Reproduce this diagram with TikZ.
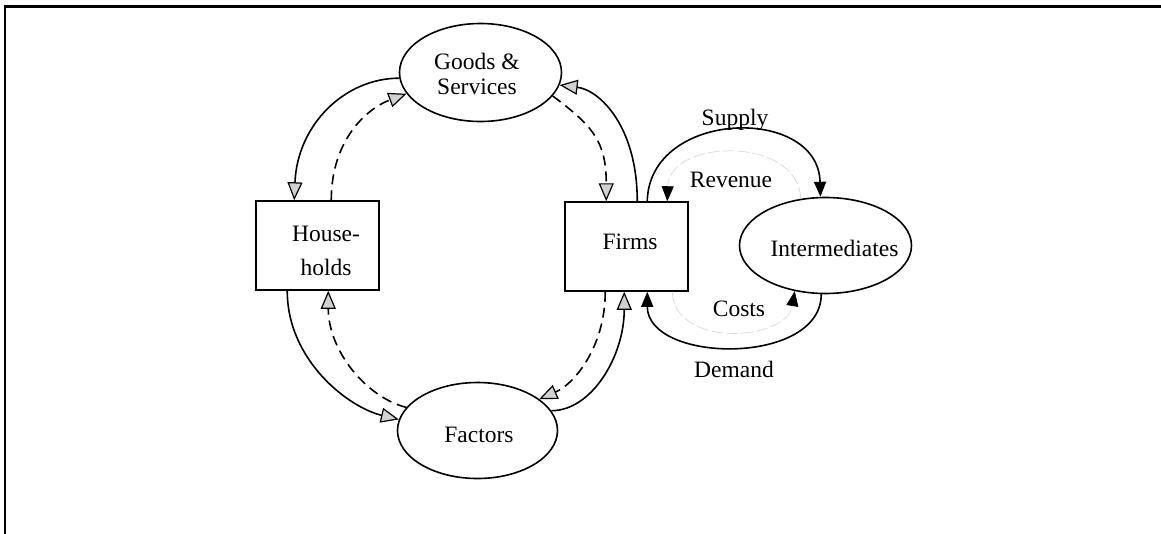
\documentclass[tikz,border=0pt]{standalone}
\usepackage{fontspec}
\setmainfont{Liberation Serif}
\usetikzlibrary{shapes.geometric,arrows.meta,calc}
\begin{document}
\begin{tikzpicture}[x=1pt,y=-1pt,
  ell/.style={ellipse, draw, line width=1.6pt, inner sep=0pt},
  boxst/.style={rectangle, draw, line width=1.5pt, inner sep=0pt},
  lbl/.style={font=\fontsize{23.5}{25}\selectfont, inner sep=0pt, align=center},
  flow/.style={line width=1.6pt, -{Triangle[length=18pt,width=15pt,fill=black!18,line width=1.2pt]}},
  money/.style={flow, dash pattern=on 10pt off 6pt},
  blk/.style={line width=1.6pt, -{Triangle[length=15pt,width=12pt]}},
  faint/.style={line width=0.7pt, draw=black!15, dash pattern=on 12pt off 3pt, -{Triangle[length=15pt,width=12pt,color=black]}},
]
\useasboundingbox (0,0) rectangle (1161,533);
\fill[white] (0,0) rectangle (1161,533);
\draw[line width=2.6pt] (5,6.5) rectangle (1180,550);

% shapes
\node[ell, minimum width=162pt, minimum height=98pt] (gs) at (480.5,72.5) {};
\node[boxst, minimum width=123pt, minimum height=89pt] (hh) at (317.5,245.5) {};
\node[boxst, minimum width=123pt, minimum height=89pt] (fi) at (626.5,246.5) {};
\node[ell, minimum width=172pt, minimum height=96pt] (im) at (825.5,245.5) {};
\node[ell, minimum width=160pt, minimum height=96pt] (fa) at (477.5,430.5) {};

% texts
\node[lbl] (gs-t) at (477,74) {Goods \&\\Services};
\node[lbl, font=\fontsize{23.5}{34}\selectfont] (hh-t) at (326,251.3) {House-\\holds};
\node[lbl] (fi-t) at (630,241.5) {Firms};
\node[lbl] (im-t) at (834.5,248.7) {Intermediates};
\node[lbl] (fa-t) at (479,435) {Factors};
\node[lbl] (sup) at (735,120) {Supply};
\node[lbl] (rev) at (731,179.5) {Revenue};
\node[lbl] (cos) at (739,309) {Costs};
\node[lbl] (dem) at (734,369) {Demand};

% upper loop
\draw[flow] (gs.184) .. controls +(-55,0) and +(3,-75) .. ($(hh.north west)+(39,0)$);
\draw[money] ($(hh.north west)+(76,0)$) .. controls +(0,-60) and +(-40,15) .. (gs.196);
\draw[money] (gs.342) .. controls +(40,30) and +(0,-60) .. ($(fi.north west)+(42,0)$);
\draw[flow] ($(fi.north west)+(73,0)$) .. controls +(0,-75) and +(40,5) .. (gs.351);

% lower loop
\draw[flow] ($(hh.south west)+(32,0)$) .. controls +(0,70) and +(-50,-12) .. (fa.172);
\draw[money] (fa.162) .. controls +(-40,-10) and +(0,60) .. ($(hh.south west)+(73,0)$);
\draw[money] ($(fi.south west)+(41,0)$) .. controls +(0,55) and +(35,-15) .. (fa.27);
\draw[flow] (fa.15) .. controls +(40,0) and +(0,65) .. ($(fi.south west)+(60,0)$);

% intermediates loop
\draw[blk] ($(fi.north west)+(83,0)$) .. controls +(2,-92) and +(-2,-92) .. (im.96);
\draw[blk] (im.265) .. controls +(0,72) and +(0,72) .. ($(fi.south west)+(83,0)$);
\draw[faint] (im.118) .. controls +(-2,-63) and +(2,-63) .. ($(fi.north west)+(103,0)$);
\draw[faint] ($(fi.south west)+(108,0)$) .. controls +(2,57) and +(-8,50) .. (im.236);
\end{tikzpicture}
\end{document}
